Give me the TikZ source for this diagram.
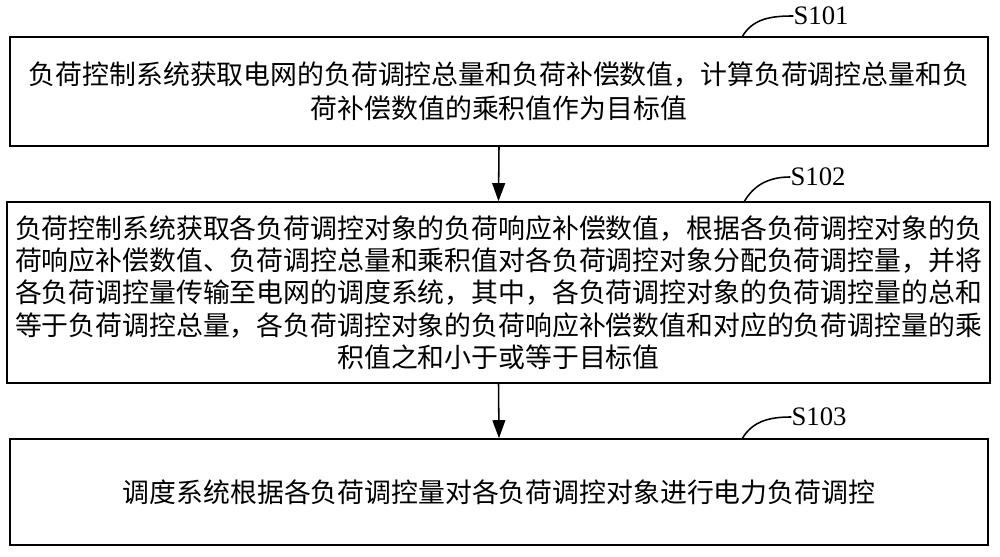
\documentclass[tikz,border=0pt]{standalone}
\usepackage{fontspec}
\setmainfont{Liberation Serif}
\newfontfamily\cjk{Noto Sans CJK SC}
\usetikzlibrary{arrows.meta,positioning}
\tikzset{>={Triangle[length=4.5mm,width=3.2mm]}}
\tikzset{
  stepbox/.style={draw,line width=1.1pt,inner sep=0pt,align=center,
    font=\cjk\fontsize{19.1pt}{23pt}\selectfont},
  steplabel/.style={inner sep=0pt,font=\fontsize{19pt}{19pt}\selectfont},
  leader/.style={line width=1.1pt},
  flow/.style={->,line width=1.1pt},
}

\begin{document}
\begin{tikzpicture}[x=0.025cm,y=0.025cm]
    \useasboundingbox (0,0) rectangle (1000,557);
    % step boxes
    \node[stepbox,minimum width=24.45cm,minimum height=2.725cm] (box1) at (499,465.5)
    {负荷控制系统获取电网的负荷调控总量和负荷补偿数值，计算负荷调控总量和负\\[1.5pt]
     荷补偿数值的乘积值作为目标值};
    \node[stepbox,minimum width=24.575cm,minimum height=4.525cm] (box2) at (498.5,264.5)
    {负荷控制系统获取各负荷调控对象的负荷响应补偿数值，根据各负荷调控对象的负\\
     荷响应补偿数值、负荷调控总量和乘积值对各负荷调控对象分配负荷调控量，并将\\
     各负荷调控量传输至电网的调度系统，其中，各负荷调控对象的负荷调控量的总和\\
     等于负荷调控总量，各负荷调控对象的负荷响应补偿数值和对应的负荷调控量的乘\\
     积值之和小于或等于目标值};
    \node[stepbox,minimum width=24.45cm,minimum height=2.65cm] (box3) at (499,65)
    {调度系统根据各负荷调控量对各负荷调控对象进行电力负荷调控};
    % step labels
    \node[steplabel] (s101) at (821,541) {S101};
    \node[steplabel] (s102) at (818,380) {S102};
    \node[steplabel] (s103) at (819,140) {S103};
    \coordinate (c1) at (742,520);
    \coordinate (c2) at (744,355);
    \coordinate (c3) at (742,118);
    \draw[leader] (c1) to[out=60,in=180] (s101.west);
    \draw[leader] (c2) to[out=60,in=180] (s102.west);
    \draw[leader] (c3) to[out=60,in=180] (s103.west);
    % flow
    \draw[flow] (box1.south) -- (box2.north);
    \draw[flow] (box2.south) -- (box3.north);
\end{tikzpicture}
\end{document}
